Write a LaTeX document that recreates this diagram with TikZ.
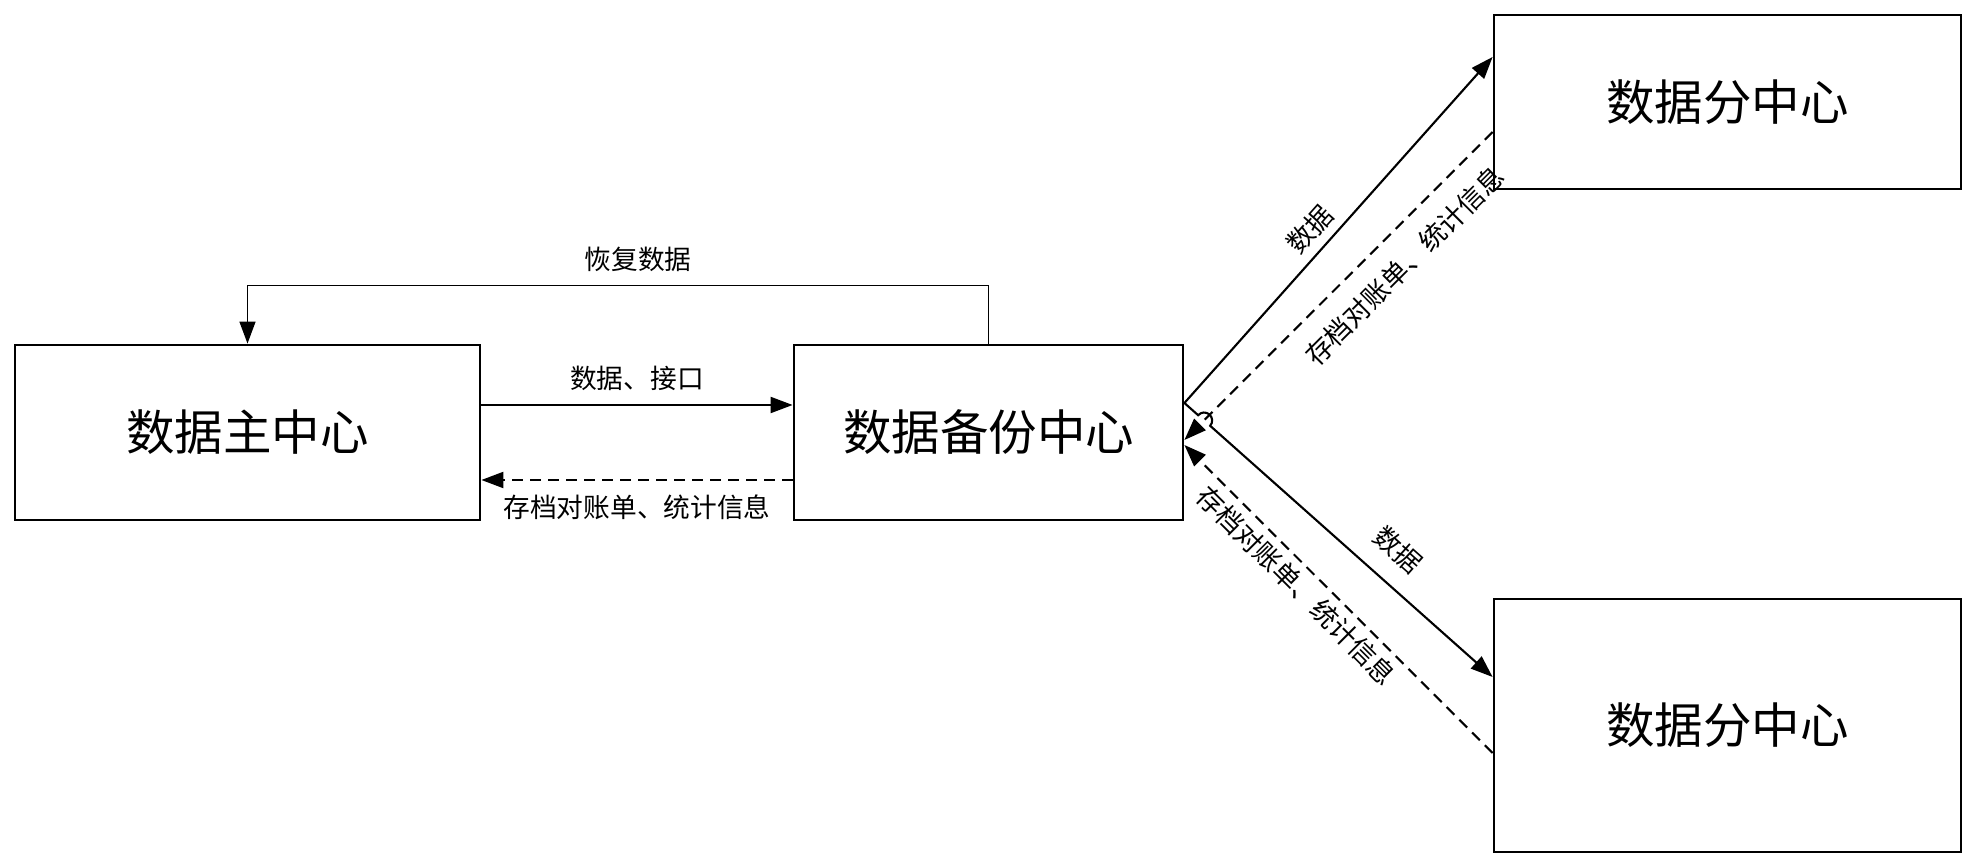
\documentclass[tikz,border=0pt]{standalone}
\usepackage{fontspec}
\newfontfamily\cjk{Noto Sans CJK SC}
\usetikzlibrary{arrows.meta,calc}
\tikzset{
  center/.style={draw,line width=0.8pt,minimum width=4.65cm,minimum height=1.75cm,
    font=\cjk\fontsize{13.8}{16}\selectfont},
  flow/.style={line width=0.6pt,-{Triangle[length=2.2mm,width=1.6mm]}},
  back/.style={flow,dash pattern=on 1.1mm off 0.7mm},
  lbl/.style={font=\cjk\fontsize{7.6}{9}\selectfont,inner sep=0.35mm}
}
\begin{document}
\begin{tikzpicture}
    \useasboundingbox (0,0) rectangle (19.77,8.66);
    %% centres
    \node[center] (main) at (2.475,4.335) {数据主中心};
    \node[center,minimum width=3.89cm] (backup) at (9.885,4.335) {数据备份中心};
    \node[center,minimum width=4.67cm,minimum height=1.74cm] (subA) at (17.275,7.64) {数据分中心};
    \node[center,minimum width=4.67cm,minimum height=2.53cm] (subB) at (17.275,1.405) {数据分中心};
    %% main <-> backup
    \draw[flow] ([yshift=2.75mm]main.east) -- node[lbl,above=1mm] {数据、接口} ([yshift=2.75mm]backup.west);
    \draw[back] ([yshift=-4.75mm]backup.west) -- node[lbl,below=1mm] {存档对账单、统计信息} ([yshift=-4.75mm]main.east);
    \draw[flow,line width=0.4pt] (backup.north) -- ++(0,0.58) -| node[lbl,above=1mm,pos=0.2365] {恢复数据} (main.north);
    %% backup <-> sub centres
    \coordinate (fork) at ([yshift=2.95mm]backup.east);
    \coordinate (inB) at ([yshift=4.85mm]subB.west);
    \draw[flow] (fork) -- node[lbl,sloped,above=0.5mm,pos=0.46] {数据} ([yshift=4.5mm]subA.west);
    \draw[back] ([yshift=-3mm]subA.west) -- node[lbl,sloped,below=1.5mm,pos=0.36] {存档对账单、统计信息} ([yshift=-0.75mm]backup.east);
    \draw[flow] (fork) -- ($(fork)!1.84mm!(inB)$) arc[start angle=138.6,end angle=-41.4,radius=0.8mm]
        -- node[lbl,sloped,above=1.5mm,pos=0.59] {数据} (inB);
    \draw[back] ([yshift=-2.75mm]subB.west) -- node[lbl,sloped,below=0.3mm,pos=0.59] {存档对账单、统计信息} ([yshift=-1.25mm]backup.east);
\end{tikzpicture}
\end{document}
